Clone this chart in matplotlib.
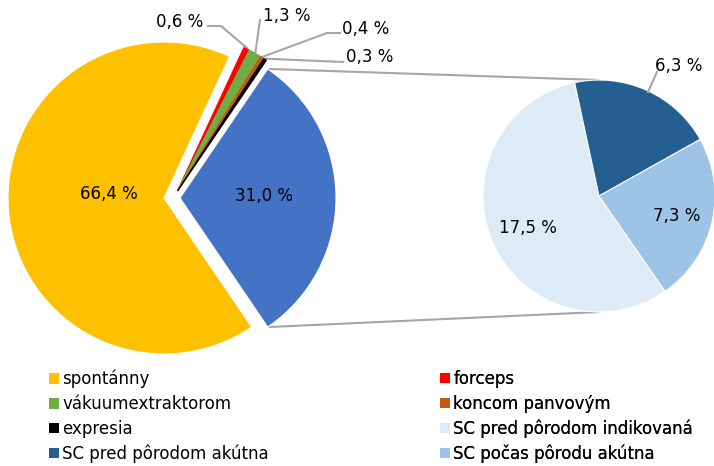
import matplotlib
matplotlib.use("Agg")
import matplotlib.pyplot as plt
import numpy as np
from matplotlib.patches import Patch

W, H = 714, 466
FONT = "DejaVu Sans"
FS = 12

# ---------------- data ----------------
main_labels = ["spontánny", "forceps", "vákuumextraktorom", "koncom panvovým", "expresia", "SC"]
main_values = [66.4, 0.6, 1.3, 0.4, 0.3, 31.0]
main_colors = ["#FFC000", "#FF0000", "#70AD47", "#C55A11", "#000000", "#4472C4"]

sub_labels = ["SC pred pôrodom indikovaná", "SC pred pôrodom akútna", "SC počas pôrodu akútna"]
sub_values = [17.5, 6.3, 7.3]
sub_colors = ["#DDEBF7", "#255E91", "#9DC3E6"]


def fmt(v):
    return f"{v:.1f} %".replace(".", ",")


def Y(y):  # image y -> axis y
    return H - y


fig = plt.figure(figsize=(W / 100, H / 100), dpi=100)
ax = fig.add_axes([0, 0, 1, 1])

# ---------------- main pie ----------------
main_c = (164, Y(198))
main_r = 156
blue_shift = 16
start = -main_values[-1] / sum(main_values) * 180.0
wedges, _ = ax.pie(main_values, colors=main_colors, center=main_c, radius=main_r,
                   startangle=start, counterclock=False, frame=True,
                   explode=[0, 0, 0, 0, 0, blue_shift],
                   wedgeprops=dict(edgecolor="white", linewidth=0.8))
# small slices pushed as a group into the gap
for w, c in zip(wedges[1:5], main_colors[1:5]):
    w.set_center((main_c[0] + 13.5, main_c[1] + 7))
    w.set_edgecolor(c)
    w.set_linewidth(0.9)
    w.set_radius(main_r + 2)

# ---------------- secondary pie ----------------
sub_c = (599, Y(196))
sub_r = 116
swedges, _ = ax.pie(sub_values, colors=sub_colors, center=sub_c, radius=sub_r,
                    startangle=-55.3, counterclock=False, frame=True,
                    wedgeprops=dict(edgecolor="white", linewidth=0.8))

# ---------------- connector lines ----------------
lc = "#A6A6A6"
bw = wedges[-1]
bc = np.array(bw.center)
for th, yy in ((bw.theta2, sub_c[1] + sub_r), (bw.theta1, sub_c[1] - sub_r)):
    p = bc + bw.r * np.array([np.cos(np.radians(th)), np.sin(np.radians(th))])
    ax.plot([p[0] + 1, sub_c[0]], [p[1], yy], color=lc, lw=1.5, solid_capstyle="butt", zorder=0)

# ---------------- labels ----------------
txt = dict(fontsize=FS, family=FONT, color="#000000", ha="center", va="center")
ax.text(109, Y(194), fmt(main_values[0]), **txt)
ax.text(264, Y(196), fmt(main_values[5]), **txt)
ax.text(528, Y(228), fmt(sub_values[0]), **txt)
ax.text(677, Y(216), fmt(sub_values[2]), **txt)

# small slice labels with leader lines
small_label_pos = [(180, 22), (287, 16), (366, 29), (370, 57)]
small_leader_pts = [[(221, 26), (208, 26)], [(260, 20)], [(327, 33), (340, 33)], [(343, 62)]]
for w, val, (lx, ly), pts in zip(wedges[1:5], main_values[1:5], small_label_pos, small_leader_pts):
    tm = np.radians(0.5 * (w.theta1 + w.theta2))
    c = np.array(w.center)
    tip = c + (w.r + 1) * np.array([np.cos(tm), np.sin(tm)])
    xs = [tip[0]] + [p[0] for p in pts]
    ys = [tip[1]] + [Y(p[1]) for p in pts]
    ax.plot(xs, ys, color=lc, lw=1.5, zorder=0)
    ax.text(lx, Y(ly), fmt(val), **txt)

# 6,3 % label outside
ax.plot([648, 657], [Y(92), Y(72)], color=lc, lw=1.5)
ax.text(679, Y(66), fmt(sub_values[1]), **txt)

ax.set_xlim(0, W)
ax.set_ylim(0, H)
ax.set_axis_off()

# ---------------- legend ----------------
col1 = [(main_labels[0], main_colors[0]), (main_labels[2], main_colors[2]),
        (main_labels[4], main_colors[4]), (sub_labels[1], sub_colors[1])]
col2 = [(main_labels[1], main_colors[1]), (main_labels[3], main_colors[3]),
        (sub_labels[0], sub_colors[0]), (sub_labels[2], sub_colors[2])]
for col, x0 in ((col1, 49), (col2, 440)):
    handles = [Patch(facecolor=c, edgecolor="none", label=l) for l, c in col]
    leg = ax.legend(handles=handles, loc="upper left", bbox_to_anchor=(x0, Y(370)),
                    bbox_transform=ax.transData, frameon=False, borderpad=0,
                    borderaxespad=0, handlelength=0.6, handleheight=0.6,
                    handletextpad=0.2, labelspacing=0.4,
                    prop=dict(family=FONT, size=FS))
    ax.add_artist(leg)

fig.savefig("out.png", dpi=100)
